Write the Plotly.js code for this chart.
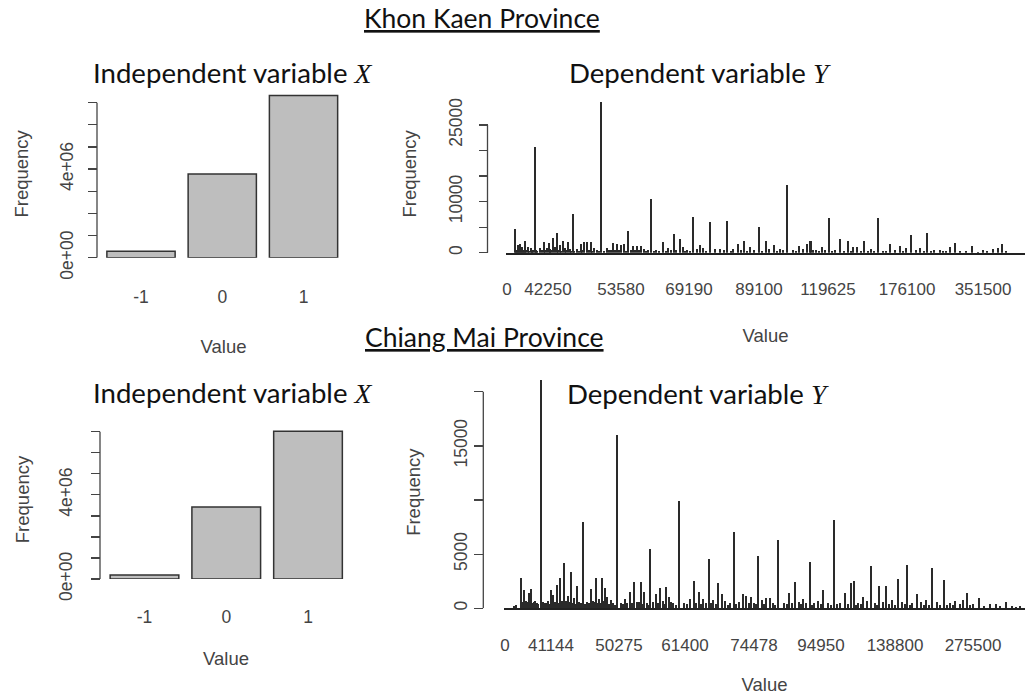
<!DOCTYPE html>
<html>
<head>
<meta charset="utf-8">
<script src="https://cdn.plot.ly/plotly-3.0.1.min.js"></script>
<style>html,body{margin:0;padding:0;background:#fff;}#chart{width:1029px;height:696px;}</style>
</head>
<body>
<div id="chart"></div>
<script>
// ---------------- DATA ----------------
// Independent variable X (frequency of each value)
const xCategories = ['-1', '0', '1'];
const kkXFreq = [290000, 3780000, 7320000];   // Khon Kaen
const cmXFreq = [190000, 3420000, 7020000];   // Chiang Mai

// Dependent variable Y, Khon Kaen: rank of the value in the sorted frequency table, and its frequency
const kkYRank = [9,12,14,16,19,22,25,29,34,38,41,43,47,49,51,54,57,59,62,64,67,71,75,78,81,85,88,91,95,101,103,107,111,115,118,122,127,131,135,138,142,145,150,157,162,165,168,174,177,181,187,191,194,197,204,209,214,218,221,227,232,238,244,248,253,260,263,268,274,277,281,287,293,297,301,304,305,310,316,319,323,329,334,338,342,347,351,355,358,365,372,377,384,389,394,400,405,410,414,421,428,434,440,444,449,454,460,466,477,481,487,492,496];
const kkYFreq = [4700,1500,1800,1200,2350,1100,900,20700,900,2150,1000,1950,2800,1200,3900,1600,2300,900,2000,700,7600,800,1700,2100,2000,2000,1000,500,29600,1000,600,1900,1700,1500,1800,4300,1400,1400,1300,800,500,10600,600,2100,1000,500,3650,2700,1200,600,6900,700,1600,900,5950,700,700,500,6200,700,1800,2300,1100,500,5100,2200,700,1600,700,600,13300,600,1300,700,1700,2300,2300,600,1100,600,6700,500,2750,400,2200,1100,1100,400,2300,700,6700,400,1700,600,1400,1000,3470,500,1000,3900,600,600,400,1100,1840,400,400,1400,500,400,800,900,1700];
// small frequencies near the baseline
const kkYRankMinor = [10,11,13,15,17,18,20,23,26,27,30,31,36,39,44,45,52,55,60,65,68,73,76,83,86,93,98,105,109,113,120,125,129,133,140,148,153,160,170,179,184,200,225,235,241,256,271,290,307,313,326,345,362,368,380,397,418,425,437,472,500];
const kkYFreqMinor = [600,400,700,500,400,600,500,300,400,600,500,400,500,600,700,500,600,400,500,400,300,400,600,500,400,300,400,500,600,500,400,600,500,600,400,400,300,400,500,400,300,400,300,500,400,400,300,400,600,400,300,300,400,300,300,400,300,300,300,200,300];
const kkYLabels = ['0','42250','53580','69190','89100','119625','176100','351500'];
const kkYLabelRank = [1,42,115,183,253,322,401,477];
const kkYCount = 519;

// Dependent variable Y, Chiang Mai
const cmYRank = [17,18,20,22,25,27,30,33,37,41,44,47,49,53,56,60,62,64,67,70,73,75,79,83,87,89,92,95,98,101,103,107,109,113,117,121,123,126,130,133,137,140,143,146,149,152,156,159,162,165,169,175,180,186,190,195,199,202,205,209,214,218,221,226,230,235,239,242,247,250,254,258,262,266,269,274,280,285,291,295,299,302,306,310,314,319,324,330,336,341,347,350,354,359,363,367,371,375,379,382,388,394,398,403,408,413,417,422,428,433,440,446,451,456,459,463,469,475,486,492,502,508,516];
const cmYFreq = [2820,600,1690,700,1380,1780,600,500,21100,500,700,1690,1230,2150,2820,4150,700,1150,3320,990,2060,600,7930,600,1750,700,2820,900,2820,1840,1080,800,500,15990,500,900,500,1500,2460,600,2460,1500,500,5470,600,1320,1840,700,1930,1000,500,9900,500,830,2550,1480,870,500,4520,800,2360,1290,650,500,7070,600,1290,1140,1020,500,4820,770,950,950,500,6270,500,1380,2460,600,900,500,4240,500,710,1690,500,8150,500,1380,2360,2550,500,1020,650,3900,500,2060,600,2060,800,2730,600,4000,500,1290,600,800,3750,600,2610,500,650,400,770,1380,400,980,400,400,620,200,200];
const cmYRankMinor = [10,12,19,21,23,24,26,28,31,34,39,42,45,51,55,58,65,68,72,77,81,85,91,94,97,100,105,111,119,128,135,139,144,154,161,167,172,183,192,197,207,212,224,232,245,252,260,271,283,288,297,308,317,327,333,344,352,357,373,385,391,401,406,420,425,436,443,449,466,480,496,512];
const cmYFreqMinor = [200,300,500,400,600,500,400,500,700,400,600,500,400,600,500,700,600,500,400,500,400,500,600,500,500,700,400,300,400,500,600,400,300,500,400,600,300,400,500,400,500,400,300,400,500,400,400,300,400,500,400,300,400,300,400,400,300,400,300,400,300,400,300,300,300,300,300,300,300,200,200,150];
const cmYLabels = ['0','41144','50275','61400','74478','94950','138800','275500'];
const cmYLabelRank = [1,47,115,181,250,317,391,469];
const cmYCount = 521;

// Axis tick values / labels
const xFreqTicks = [0,1e6,2e6,3e6,4e6,5e6,6e6,7e6];
const xFreqTickText = ['0e+00','','','','4e+06','','',''];
const kkFreqTicks = [0,5000,10000,15000,20000,25000];
const kkFreqTickText = ['0','','10000','','','25000'];
const cmFreqTicks = [0,5000,10000,15000,20000];
const cmFreqTickText = ['0','5000','','15000',''];

// ---------------- LAYOUT HELPERS ----------------
const W = 1029, H = 696;
const fx = px => px / W;
const fy = py => 1 - py / H;
function yAxisGeom(topPx, zeroPx, refVal, refPx) {
  const perPx = refVal / (zeroPx - refPx);
  return { domain: [fy(zeroPx), fy(topPx)], range: [0, (zeroPx - topPx) * perPx] };
}

const tickFont = { family: 'Liberation Sans, Arial, sans-serif', size: 17.5, color: '#444' };
const xTickFont = { family: 'Liberation Sans, Arial, sans-serif', size: 17, color: '#444' };
const titleFont = { family: 'Liberation Sans, Arial, sans-serif', size: 18.5, color: '#444' };
const headFont = { family: 'Lato, sans-serif', size: 26.5, color: '#111' };
const subFont = { family: 'Lato, sans-serif', size: 27.6, color: '#111' };

function yAxis(geom, posPx, tv, tt, labOff, titleOff) {
  return {
    domain: geom.domain, range: geom.range, anchor: 'free', position: fx(posPx),
    tickmode: 'array', tickvals: tv, ticktext: tt, ticks: 'outside', ticklen: 9,
    tickwidth: 1.3, tickcolor: '#444', tickangle: -90, tickfont: tickFont,
    ticklabelstandoff: labOff,
    showgrid: false, zeroline: false, showline: false, fixedrange: true,
    title: { text: 'Frequency', font: titleFont, standoff: titleOff }
  };
}

const g1 = yAxisGeom(90, 257.7, 7e6, 102.7);
const g2 = yAxisGeom(95, 252.7, 25000, 125);
const g3 = yAxisGeom(420, 579, 7e6, 431.7);
const g4 = yAxisGeom(376, 608.3, 20000, 391.7);

const spikeStyle = { color: '#2a2a2a', line: { width: 0 } };
const barStyle = { color: '#bebebe', line: { color: '#333', width: 1.5 } };
const traces = [
  { type: 'bar', x: xCategories, y: kkXFreq, xaxis: 'x', yaxis: 'y', width: 0.84, marker: barStyle },
  { type: 'bar', x: kkYRank.concat(kkYRankMinor), y: kkYFreq.concat(kkYFreqMinor), xaxis: 'x2', yaxis: 'y2', width: 1.15, marker: spikeStyle },
  { type: 'bar', x: xCategories, y: cmXFreq, xaxis: 'x3', yaxis: 'y3', width: 0.84, marker: barStyle },
  { type: 'bar', x: cmYRank.concat(cmYRankMinor), y: cmYFreq.concat(cmYFreqMinor), xaxis: 'x4', yaxis: 'y4', width: 1.15, marker: spikeStyle }
];

function barXAxis(domPx, range, yref, labOff, titleOff) {
  return {
    domain: [fx(domPx[0]), fx(domPx[1])], range: range, anchor: yref, type: 'category',
    showline: false, ticks: '', showgrid: false, zeroline: false, tickfont: tickFont,
    ticklabelstandoff: labOff, fixedrange: true,
    title: { text: 'Value', font: titleFont, standoff: titleOff }
  };
}
function spikeXAxis(domPx, n, yref, tv, tt, labOff, titleOff) {
  return {
    domain: [fx(domPx[0]), fx(domPx[1])], range: [0, n], anchor: yref, type: 'linear',
    showline: true, linecolor: '#222', linewidth: 2, ticks: '', showgrid: false, zeroline: false,
    tickmode: 'array', tickvals: tv, ticktext: tt, tickfont: xTickFont,
    ticklabelstandoff: labOff, fixedrange: true,
    title: { text: 'Value', font: titleFont, standoff: titleOff }
  };
}

const axisLine = (xPx, yref, top) => ({ type: 'line', xref: 'paper', yref: yref,
  x0: fx(xPx), x1: fx(xPx), y0: 0, y1: top, line: { color: '#444', width: 1.3 } });

const mathVar = v => '<i><span style="font-family:Liberation Serif">' + v + '</span></i>';
const head = (text, px, py, font) => ({ text: text, x: fx(px), y: fy(py), xref: 'paper', yref: 'paper',
  showarrow: false, font: font, xanchor: 'center', yanchor: 'middle' });

const layout = {
  width: W, height: H, margin: { l: 0, r: 0, t: 0, b: 0 },
  paper_bgcolor: '#fff', plot_bgcolor: 'rgba(0,0,0,0)', showlegend: false, bargap: 0,
  xaxis: barXAxis([97, 350], [-0.5415, 2.572], 'y', 27, 33),
  yaxis: yAxis(g1, 97, xFreqTicks, xFreqTickText, 8, 22),
  xaxis2: spikeXAxis([506, 1025], kkYCount, 'y2', kkYLabelRank, kkYLabels, 20, 31),
  yaxis2: yAxis(g2, 487.5, kkFreqTicks, kkFreqTickText, 10, 23),
  xaxis3: barXAxis([100, 352], [-0.544, 2.538], 'y3', 25, 26),
  yaxis3: yAxis(g3, 100, xFreqTicks, xFreqTickText, 12, 20),
  xaxis4: spikeXAxis([504, 1025], cmYCount, 'y4', cmYLabelRank, cmYLabels, 20, 24),
  yaxis4: yAxis(g4, 483.3, cmFreqTicks, cmFreqTickText, 12.5, 24),
  shapes: [
    axisLine(97, 'y', xFreqTicks[xFreqTicks.length - 1]),
    axisLine(487.5, 'y2', kkFreqTicks[kkFreqTicks.length - 1]),
    axisLine(100, 'y3', xFreqTicks[xFreqTicks.length - 1]),
    axisLine(483.3, 'y4', cmFreqTicks[cmFreqTicks.length - 1])
  ],
  annotations: [
    head('<u>Khon Kaen Province</u>', 482, 18, headFont),
    head('<u>Chiang Mai Province</u>', 484, 337, headFont),
    head('Independent variable ' + mathVar('X'), 233, 73, subFont),
    head('Dependent variable ' + mathVar('Y'), 700, 73, subFont),
    head('Independent variable ' + mathVar('X'), 233, 392, subFont),
    head('Dependent variable ' + mathVar('Y'), 698, 393, subFont)
  ]
};

Plotly.newPlot('chart', traces, layout, { displayModeBar: false, staticPlot: true });
</script>
</body>
</html>
